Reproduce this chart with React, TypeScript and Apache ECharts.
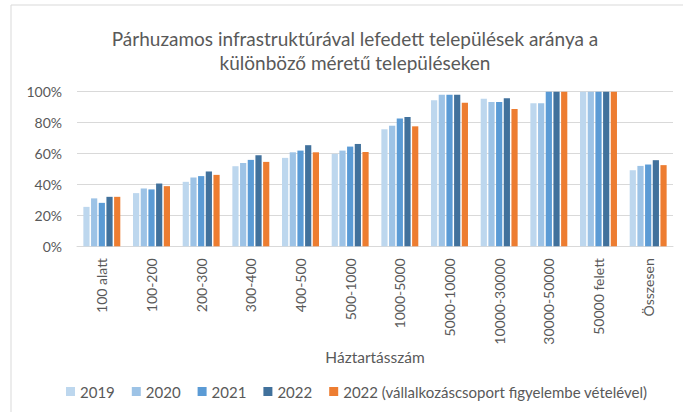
import React, { useEffect, useRef } from "react";
import * as echarts from "echarts";

const categories = [
  "100 alatt", "100-200", "200-300", "300-400", "400-500", "500-1000",
  "1000-5000", "5000-10000", "10000-30000", "30000-50000", "50000 felett", "Összesen",
];
const seriesNames = ["2019", "2020", "2021", "2022", "2022 (vállalkozáscsoport figyelembe vételével)"];
const v2019 = [25.5, 34.4, 41.7, 51.8, 57.2, 59.8, 75.7, 94.4, 95.5, 92.6, 100, 49.2];
const v2020 = [31, 37.4, 44.5, 53.9, 60.8, 61.9, 78, 98, 93.3, 92.6, 100, 52];
const v2021 = [28.1, 36.8, 45.4, 55.9, 61.9, 64.5, 82.6, 98, 93.3, 100, 100, 52.9];
const v2022 = [32, 40.6, 48.4, 58.9, 65.4, 66.2, 83.6, 98, 95.7, 100, 100, 55.7];
const v2022v = [32, 38.9, 46.2, 54.6, 60.8, 61, 77.6, 92.9, 88.8, 100, 100, 52.5];
const yTicks = [0, 20, 40, 60, 80, 100];

const colors = ["#BDD7EE", "#9DC3E6", "#5B9BD5", "#41719C", "#ED7D31"];
const FONT = "Lato";
const TXT = "#595959";

export default function App() {
  const ref = useRef<HTMLDivElement>(null);
  useEffect(() => {
    if (!ref.current) return;
    const chart = echarts.init(ref.current, null, { renderer: "svg" });
    const allValues = [v2019, v2020, v2021, v2022, v2022v];
    chart.setOption({
      animation: false,
      backgroundColor: "#ffffff",
      color: colors,
      title: {
        text: "Párhuzamos infrastruktúrával lefedett települések aránya a\nkülönböző méretű településeken",
        left: 350,
        top: 21,
        textAlign: "center",
        textStyle: { fontFamily: FONT, fontSize: 19, fontWeight: "normal", color: TXT, lineHeight: 24 },
      },
      graphic: [
        {
          type: "rect",
          shape: { x: 11, y: 5, width: 690, height: 420 },
          style: { fill: "none", stroke: "#d9d9d9", lineWidth: 1 },
          silent: true,
        },
      ],
      legend: {
        left: 61,
        top: 379,
        itemWidth: 9,
        itemHeight: 9,
        itemGap: 17,
        icon: "rect",
        textStyle: { fontFamily: FONT, fontSize: 15, color: TXT },
        data: seriesNames,
      },
      grid: { left: 77, right: 10, top: 91.7, bottom: 165.7, containLabel: false },
      xAxis: {
        type: "category",
        data: categories,
        axisLine: { lineStyle: { color: "#d9d9d9" } },
        axisTick: { show: false },
        axisLabel: { rotate: 90, fontFamily: FONT, fontSize: 14, color: TXT, margin: 12 },
        name: "Háztartásszám",
        nameLocation: "middle",
        nameGap: 109,
        nameTextStyle: { fontFamily: FONT, fontSize: 15.5, color: TXT, verticalAlign: "middle" },
      },
      yAxis: {
        type: "value",
        min: yTicks[0],
        max: yTicks[yTicks.length - 1],
        interval: 20,
        axisLine: { show: false },
        axisTick: { show: false },
        splitLine: { lineStyle: { color: "#d9d9d9" } },
        axisLabel: { formatter: "{value}%", fontFamily: FONT, fontSize: 14, color: TXT, margin: 15 },
      },
      series: seriesNames.map((name, i) => ({
        name,
        type: "bar",
        data: allValues[i],
        barWidth: 6.2,
        barGap: "24%",
        itemStyle: { color: colors[i] },
      })),
    });
    return () => chart.dispose();
  }, []);
  return <div ref={ref} style={{ position: "fixed", left: 0, top: 0, width: 683, height: 412 }} />;
}
